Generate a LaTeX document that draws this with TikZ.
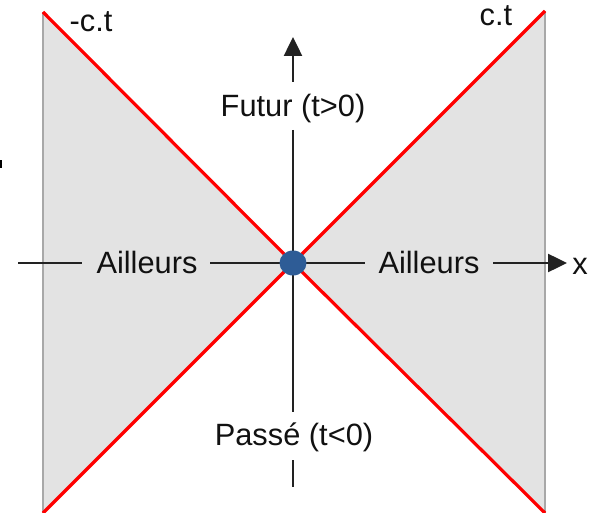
\documentclass[tikz,border=0pt]{standalone}
\usepackage{fontspec}
\setmainfont{Liberation Sans}
\usetikzlibrary{arrows.meta,shapes.geometric}
\definecolor{conegray}{HTML}{E3E3E3}
\definecolor{edgegray}{HTML}{A8A8A8}
\definecolor{axiscol}{HTML}{222222}
\definecolor{dotblue}{HTML}{2E5C96}
\definecolor{txt}{HTML}{111111}
\tikzset{
  conefill/.style={fill=conegray},
  coneedge/.style={draw=edgegray, line width=2.2pt},
  lightray/.style={draw=red, line width=3.2pt},
  axisline/.style={draw=axiscol, line width=2.5pt},
  axisarrow/.style={axisline, -{Triangle[length=19pt,width=18pt]}},
  lbl/.style={anchor=base, inner sep=0pt, text=txt, font=\fontsize{30.8}{36}\selectfont},
}
\begin{document}
\begin{tikzpicture}[x=1pt,y=-1pt]
\useasboundingbox (0,0) rectangle (589,513);
% cone regions
\coordinate (LT) at (43,12);
\coordinate (LB) at (43,513);
\coordinate (RT) at (545,11);
\coordinate (RB) at (545,513);
\coordinate (O) at (293,263);
\fill[conefill] (LT) -- (O) -- (LB) -- cycle;
\fill[conefill] (RT) -- (O) -- (RB) -- cycle;
\draw[coneedge] (LT) -- (LB);
\draw[coneedge] (RT) -- (RB);
% labels
\node[lbl] (futur) at (293,117) {Futur (t>0)};
\node[lbl] (passe) at (294,445) {Passé (t<0)};
\node[lbl] (aill) at (147,273) {Ailleurs};
\node[lbl] (ailr) at (429,273) {Ailleurs};
\node[lbl] (xlab) at (580,274) {x};
\node[lbl] (mct) at (91,32) {-c.t};
\node[lbl] (ct) at (496,26) {c.t};
% axes
\coordinate (h1) at (18,263);
\coordinate (h2) at (82,263);
\coordinate (h3) at (210,263);
\coordinate (h4) at (365,263);
\coordinate (h5) at (493,263);
\coordinate (h6) at (567,263);
\coordinate (v1) at (293,82);
\coordinate (v2) at (293,37);
\coordinate (v3) at (293,130);
\coordinate (v4) at (293,412);
\coordinate (v5) at (293,460);
\coordinate (v6) at (293,487);
\draw[axisline] (h1) -- (h2);
\draw[axisline] (h3) -- (h4);
\draw[axisarrow] (h5) -- (h6);
\draw[axisarrow] (v1) -- (v2);
\draw[axisline] (v3) -- (v4);
\draw[axisline] (v5) -- (v6);
% light rays
\draw[lightray] (LT) -- (O) -- (RB);
\draw[lightray] (LB) -- (O) -- (RT);
% origin
\node[ellipse, fill=dotblue, minimum width=27pt, minimum height=25pt, inner sep=0pt] (origin) at (O) {};
% small edge mark
\fill[black] (0,160) rectangle (1.6,168);
\end{tikzpicture}
\end{document}
